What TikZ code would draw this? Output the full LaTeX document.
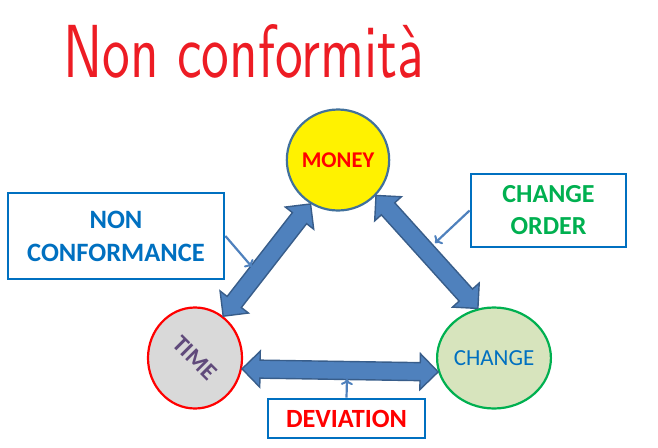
\documentclass[tikz,border=0pt]{standalone}
\usepackage{fontspec}
\usepackage{graphicx}
\usetikzlibrary{shapes.geometric,calc,arrows.meta}
\newfontfamily\cali{Carlito}
\definecolor{titlered}{HTML}{ED1C24}
\definecolor{moneyborder}{HTML}{41719C}
\definecolor{timefill}{HTML}{D9D9D9}
\definecolor{timetext}{HTML}{604A7B}
\definecolor{changefill}{HTML}{D7E4BD}
\definecolor{mygreen}{HTML}{00B050}
\definecolor{myblue}{HTML}{0070C0}
\definecolor{arrowfill}{HTML}{4F81BD}
\definecolor{arrowdraw}{HTML}{385D8A}
\tikzset{
  bubble/.style={ellipse, minimum width=94pt, minimum height=101pt, inner sep=0pt, line width=2.2pt},
  labelbox/.style={draw=myblue, line width=2.8pt, fill=white, inner sep=0pt, align=center},
  fatarrow/.style={fill=arrowfill, draw=arrowdraw, line width=1.4pt, line join=miter},
  thinarrow/.style={draw=arrowfill, line width=2.2pt, -{To[length=6pt,width=12pt,line width=2pt]}},
}
\newcommand\fatarrow[3]{%
  \coordinate (#1s) at (#2);
  \coordinate (#1e) at (#3);
  \coordinate (#1a) at ($(#1s)!18pt!(#1e)$);
  \coordinate (#1b) at ($(#1e)!18pt!(#1s)$);
  \filldraw[fatarrow] (#1s) -- ($(#1a)!18pt!90:(#1e)$) -- ($(#1a)!9pt!90:(#1e)$)
    -- ($(#1b)!9pt!-90:(#1s)$) -- ($(#1b)!18pt!-90:(#1s)$) -- (#1e)
    -- ($(#1b)!18pt!90:(#1s)$) -- ($(#1b)!9pt!90:(#1s)$)
    -- ($(#1a)!9pt!-90:(#1e)$) -- ($(#1a)!18pt!-90:(#1e)$) -- cycle;}
\begin{document}
\begin{tikzpicture}[x=1pt,y=-1pt]
\useasboundingbox (0,0) rectangle (658,447);
\node[anchor=base west, inner sep=0pt, text=titlered] (title) at (63,77)
  {\resizebox{361pt}{53pt}{\sffamily Non conformità}};

\node[bubble, fill=yellow, draw=moneyborder, text=red,
      font=\cali\bfseries\fontsize{22.5}{27}\selectfont] (money) at (338,160) {MONEY};
\node[bubble, fill=timefill, draw=red] (time) at (195,358) {};
\node[rotate=-45, inner sep=0pt, text=timetext,
      font=\cali\bfseries\fontsize{24}{28}\selectfont] (timelabel) at (time.center) {TIME};
\node[bubble, fill=changefill, draw=mygreen, text=myblue,
      font=\cali\fontsize{23}{27}\selectfont] (change) at (494,358) {CHANGE};

\fatarrow{l}{money.238}{time.56}
\fatarrow{r}{money.-43}{change.108}
\fatarrow{h}{time.-13}{change.194}

\node[labelbox, minimum width=216pt, minimum height=86pt, text=myblue,
      font=\cali\bfseries\fontsize{26.5}{33}\selectfont] (nc) at (116,236)
  {NON\\CONFORMANCE};
\node[labelbox, minimum width=155pt, minimum height=73pt, text=mygreen,
      font=\cali\bfseries\fontsize{26}{32}\selectfont] (co) at (548.5,210.5)
  {CHANGE\\ORDER};
\node[labelbox, minimum width=157pt, minimum height=39pt, text=red,
      font=\cali\bfseries\fontsize{26.3}{30}\selectfont] (dev) at (346.5,418.5)
  {DEVIATION};

\coordinate (ncend) at (252,267);
\coordinate (coend) at (435,243);
\coordinate (devend) at (347,379);
\draw[thinarrow] (nc.east) -- (ncend);
\draw[thinarrow] (co.west) -- (coend);
\draw[thinarrow] (dev.north) -- (devend);
\end{tikzpicture}
\end{document}
